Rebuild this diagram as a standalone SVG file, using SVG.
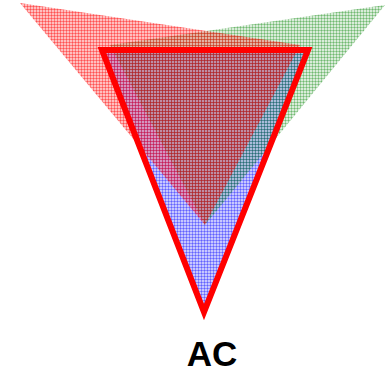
<svg xmlns="http://www.w3.org/2000/svg" width="390" height="372" viewBox="0 0 390 372">
<defs>
<pattern id="pr" width="3" height="3" patternUnits="userSpaceOnUse">
<rect width="3" height="3" fill="#ff0000" fill-opacity="0.25"/>
<rect width="3" height="1" fill="#ff0000" fill-opacity="0.35"/>
<rect width="1" height="3" fill="#ff0000" fill-opacity="0.35"/>
</pattern>
<pattern id="pg" width="3" height="3" patternUnits="userSpaceOnUse">
<rect width="3" height="3" fill="#008000" fill-opacity="0.15"/>
<rect width="3" height="1" fill="#008000" fill-opacity="0.28"/>
<rect width="1" height="3" fill="#008000" fill-opacity="0.28"/>
</pattern>
<pattern id="pb" width="3" height="3" patternUnits="userSpaceOnUse">
<rect width="3" height="3" fill="#0000ff" fill-opacity="0.22"/>
<rect width="3" height="1" fill="#0000ff" fill-opacity="0.3"/>
<rect width="1" height="3" fill="#0000ff" fill-opacity="0.3"/>
</pattern>
<style>
.lbl{font-family:"Liberation Sans",Arial,sans-serif;font-weight:bold;font-size:35px;fill:#000}
</style>
</defs>
<rect width="390" height="372" fill="#fff"/>
<g id="blue"><polygon points="102,50 308,50 204,312" fill="url(#pb)"/></g>
<g id="green"><polygon points="385,5 110,45 205,225" fill="url(#pg)"/></g>
<g id="red"><polygon points="20,3 300,45 205,225" fill="url(#pr)"/></g>
<g id="outline"><polygon points="102,50 308,50 204,312" fill="none" stroke="#ff0000" stroke-width="6" stroke-linejoin="miter"/></g>
<g id="label"><text class="lbl" x="212" y="366" text-anchor="middle">AC</text></g>
</svg>
